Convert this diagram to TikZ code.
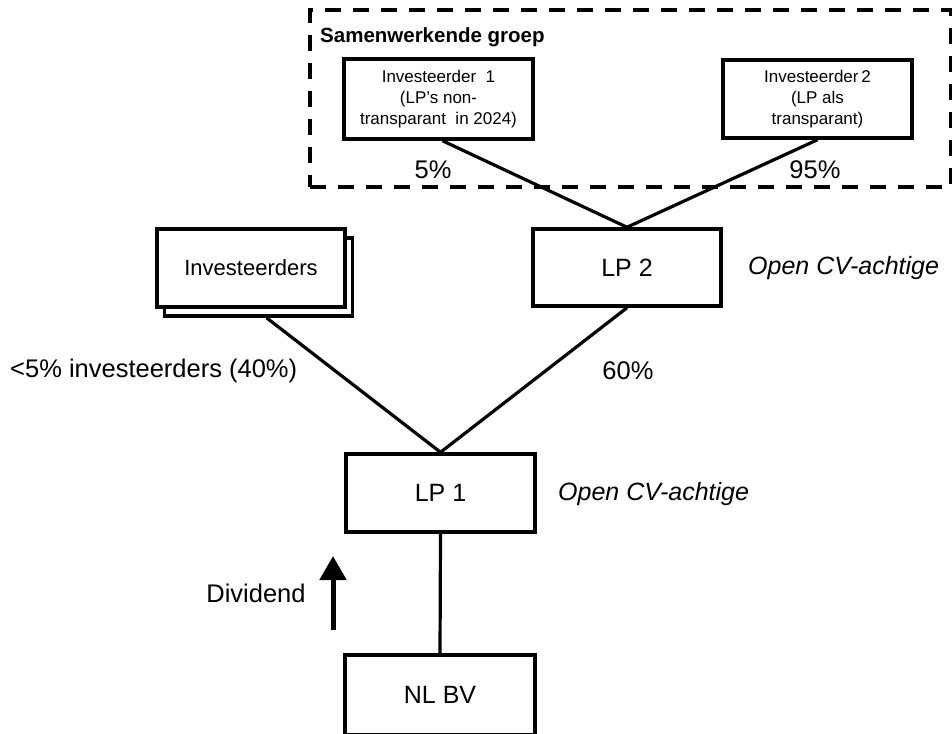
\documentclass[tikz,border=0pt]{standalone}
\usepackage{fontspec}
\setmainfont{Liberation Sans}
\usetikzlibrary{arrows.meta,calc}
\begin{document}
\begin{tikzpicture}[x=1pt,y=-1pt,
  box/.style={draw=black,line width=3.5pt,fill=white,inner sep=0pt,align=center,font=\fontsize{25}{30}\selectfont},
  smallbox/.style={box,font=\fontsize{17}{21}\selectfont},
  conn/.style={line width=3.2pt},
  lbl/.style={inner sep=0pt,font=\fontsize{25.5}{30}\selectfont},
  ilbl/.style={lbl,font=\fontsize{25}{30}\selectfont\itshape}]
\useasboundingbox (0,0) rectangle (952,733);
% group
\node[draw=black,line width=4pt,dash pattern=on 16pt off 12pt,minimum width=641pt,minimum height=177pt,inner sep=0pt] (group) at (630.5,98.5) {};
\node[anchor=west,inner sep=0pt,font=\fontsize{20.5}{24}\selectfont\bfseries] (grouplbl) at (320,37) {Samenwerkende groep};
% boxes
\node[smallbox,minimum width=189pt,minimum height=80pt] (inv1) at (438.5,99) {Investeerder~~1\\(LP’s non-\\transparant~~in 2024)};
\node[smallbox,minimum width=189pt,minimum height=78pt] (inv2) at (817.5,99) {Investeerder\,2\\(LP als\\transparant)};
\node[box,minimum width=188pt,minimum height=77pt] (lp2) at (627,267.5) {LP 2};
\node[box,minimum width=188pt,minimum height=78pt] (invsb) at (258.5,277) {};
\node[box,minimum width=188pt,minimum height=78pt,font=\fontsize{22}{26}\selectfont] (invs) at (251,268) {Investeerders};
\node[box,minimum width=189pt,minimum height=78pt] (lp1) at (440.5,493) {LP 1};
\node[box,minimum width=190pt,minimum height=80pt] (nlbv) at (440,695) {NL BV};
% connectors
\draw[conn] ($(inv1.south)+(4,0)$) -- (lp2.north);
\draw[conn] (inv2.south) -- (lp2.north);
\draw[conn] ($(invsb.south)+(8,0)$) -- (lp1.north);
\draw[conn] (lp2.south) -- (lp1.north);
\draw[conn] (lp1.south) -- (nlbv.north);
% labels
\node[lbl] (p5) at (433,170) {5\%};
\node[lbl] (p95) at (815,170) {95\%};
\node[lbl,anchor=west] (p40) at (10,371) {<5\% investeerders (40\%)};
\node[lbl] (p60) at (628,371) {60\%};
\node[ilbl,anchor=west] (cv2) at (748,268) {Open CV-achtige};
\node[ilbl,anchor=west] (cv1) at (558,494) {Open CV-achtige};
\node[lbl] (div) at (256,593) {Dividend};
% dividend arrow
\coordinate (arrS) at (333,630);
\coordinate (arrE) at (333,556);
\draw[line width=5pt,-{Triangle[width=26pt,length=24pt]}] (arrS) -- (arrE);
\end{tikzpicture}
\end{document}
